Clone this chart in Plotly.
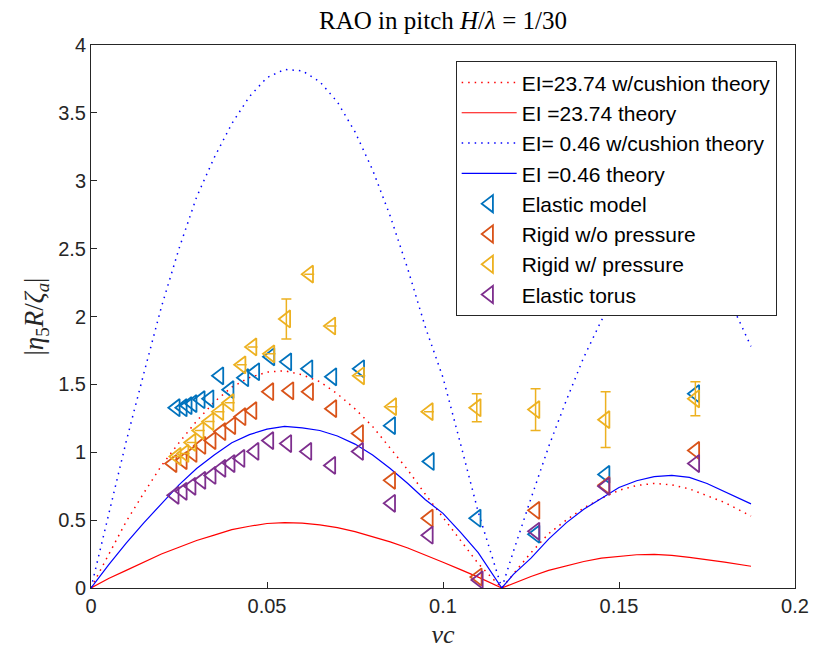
import plotly.graph_objects as go

# Theory curves (nu*c vs |eta5 R / zeta_a|)
x_th = [0.0, 0.005, 0.010, 0.015, 0.020, 0.025, 0.030, 0.035, 0.040, 0.045,
        0.050, 0.055, 0.060, 0.065, 0.070, 0.075, 0.080, 0.085, 0.090, 0.095,
        0.100, 0.105, 0.110, 0.1167, 0.120, 0.125, 0.130, 0.135, 0.140, 0.145,
        0.150, 0.155, 0.160, 0.165, 0.170, 0.175, 0.180, 0.1875]

ei23_cushion = [0.0, 0.25, 0.49, 0.70, 0.90, 1.07, 1.23, 1.37, 1.48, 1.55,
                1.59, 1.60, 1.57, 1.52, 1.43, 1.32, 1.19, 1.03, 0.87, 0.69,
                0.52, 0.35, 0.18, 0.0, 0.10, 0.26, 0.40, 0.50, 0.59, 0.66,
                0.72, 0.755, 0.77, 0.76, 0.73, 0.68, 0.63, 0.53]

ei23_theory = [0.0, 0.07, 0.13, 0.19, 0.25, 0.30, 0.35, 0.39, 0.43, 0.455,
               0.475, 0.482, 0.478, 0.465, 0.445, 0.415, 0.38, 0.34, 0.295, 0.245,
               0.19, 0.135, 0.08, 0.0, 0.035, 0.085, 0.13, 0.165, 0.195, 0.22,
               0.235, 0.245, 0.247, 0.24, 0.225, 0.21, 0.19, 0.16]

ei046_cushion = [0.0, 0.55, 1.08, 1.58, 2.07, 2.50, 2.88, 3.17, 3.42, 3.62,
                 3.76, 3.82, 3.81, 3.73, 3.58, 3.36, 3.08, 2.74, 2.35, 1.92,
                 1.55, 1.06, 0.56, 0.0, 0.27, 0.66, 1.04, 1.38, 1.70, 1.97,
                 2.19, 2.36, 2.47, 2.52, 2.50, 2.42, 2.20, 1.78]

ei046_theory = [0.0, 0.17, 0.33, 0.48, 0.62, 0.76, 0.88, 0.98, 1.07, 1.13,
                1.17, 1.19, 1.18, 1.16, 1.12, 1.06, 0.98, 0.88, 0.77, 0.65,
                0.55, 0.41, 0.26, 0.0, 0.10, 0.22, 0.36, 0.48, 0.58, 0.66,
                0.74, 0.79, 0.82, 0.83, 0.815, 0.77, 0.71, 0.62]

# Experimental series
elastic_x = [0.0241, 0.0261, 0.0275, 0.0289, 0.0312, 0.0337, 0.0365, 0.0394,
             0.0436, 0.0467, 0.0510, 0.0558, 0.0618, 0.0686, 0.0765, 0.0853,
             0.0963, 0.1096, 0.1263, 0.1462, 0.1717]
elastic_y = [1.328, 1.328, 1.343, 1.358, 1.387, 1.394, 1.563, 1.461,
             1.549, 1.593, 1.703, 1.666, 1.615, 1.556, 1.615, 1.196,
             0.932, 0.514, 0.396, 0.837, 1.431]

rigid_x = [0.0232, 0.0261, 0.0289, 0.0314, 0.0343, 0.0371, 0.0399, 0.0428,
           0.0459, 0.0507, 0.0564, 0.0620, 0.0686, 0.0762, 0.0853, 0.0960,
           0.1099, 0.1263, 0.1462, 0.1717]
rigid_y = [0.917, 0.939, 0.991, 1.050, 1.086, 1.152, 1.196, 1.262,
           1.306, 1.446, 1.453, 1.446, 1.321, 1.138, 0.793, 0.514,
           0.081, 0.572, 0.756, 1.013]

pressure_x = [0.0244, 0.0266, 0.0286, 0.0309, 0.0337, 0.0365, 0.0394, 0.0428,
              0.0459, 0.0510, 0.0555, 0.0620, 0.0683, 0.0765, 0.0856, 0.0960,
              0.1096, 0.1263, 0.1462, 0.1717]
pressure_y = [0.969, 0.991, 1.072, 1.160, 1.226, 1.299, 1.365, 1.644,
              1.776, 1.725, 1.982, 2.312, 1.930, 1.563, 1.336, 1.299,
              1.328, 1.314, 1.240, 1.394]
pressure_err = [0, 0, 0, 0, 0, 0, 0, 0,
                0, 0, 0.147, 0, 0, 0, 0, 0,
                0.103, 0.154, 0.205, 0.125]

torus_x = [0.0238, 0.0261, 0.0286, 0.0314, 0.0343, 0.0371, 0.0397, 0.0425,
           0.0465, 0.0507, 0.0558, 0.0615, 0.0683, 0.0762, 0.0853, 0.0960,
           0.1102, 0.1263, 0.1462, 0.1717]
torus_y = [0.683, 0.712, 0.749, 0.793, 0.829, 0.881, 0.917, 0.954,
           1.006, 1.086, 1.064, 1.006, 0.903, 1.006, 0.624, 0.389,
           0.059, 0.418, 0.749, 0.917]

x_ticks = [0, 0.05, 0.1, 0.15, 0.2]
x_tick_text = ["0", "0.05", "0.1", "0.15", "0.2"]
y_ticks = [0, 0.5, 1, 1.5, 2, 2.5, 3, 3.5, 4]
y_tick_text = ["0", "0.5", "1", "1.5", "2", "2.5", "3", "3.5", "4"]

BLUE = "#0072BD"
ORANGE = "#D95319"
YELLOW = "#EDB120"
PURPLE = "#7E2F8E"
DOTS = "1.5px,5px"

fig = go.Figure()

fig.add_trace(go.Scatter(x=x_th, y=ei23_cushion, mode="lines",
                         line=dict(color="#FF0000", width=1.5, dash=DOTS),
                         name="EI=23.74 w/cushion theory"))
fig.add_trace(go.Scatter(x=x_th, y=ei23_theory, mode="lines",
                         line=dict(color="#FF0000", width=1.2),
                         name="EI =23.74 theory"))
fig.add_trace(go.Scatter(x=x_th, y=ei046_cushion, mode="lines",
                         line=dict(color="#0000FF", width=1.5, dash=DOTS),
                         name="EI= 0.46 w/cushion theory"))
fig.add_trace(go.Scatter(x=x_th, y=ei046_theory, mode="lines",
                         line=dict(color="#0000FF", width=1.2),
                         name="EI =0.46 theory"))


def marker_trace(xs, ys, color, name, err=None):
    tr = go.Scatter(x=xs, y=ys, mode="markers", name=name,
                    marker=dict(symbol="triangle-left-open", size=15,
                                color=color, line=dict(width=1.8, color=color)))
    if err is not None:
        tr.error_y = dict(type="data", array=err, visible=True,
                          color=color, thickness=1.5, width=5)
    return tr


fig.add_trace(marker_trace(elastic_x, elastic_y, BLUE, "Elastic model"))
fig.add_trace(marker_trace(rigid_x, rigid_y, ORANGE, "Rigid w/o pressure"))
fig.add_trace(marker_trace(pressure_x, pressure_y, YELLOW, "Rigid w/ pressure",
                           err=pressure_err))
fig.add_trace(marker_trace(torus_x, torus_y, PURPLE, "Elastic torus"))

axis_style = dict(showline=True, linecolor="#262626", linewidth=1, mirror=True,
                  ticks="inside", ticklen=6, tickcolor="#262626",
                  showgrid=False, zeroline=False,
                  tickfont=dict(family="Liberation Sans, Arial", size=20, color="#262626"))

fig.update_layout(
    width=821, height=655,
    margin=dict(l=91, r=24, t=45, b=65),
    paper_bgcolor="white", plot_bgcolor="white",
    title=dict(text="RAO in pitch <i>H</i>/<i>λ</i> = 1/30",
               font=dict(family="Liberation Serif, Times New Roman", size=25, color="#000000"),
               x=0.5, xref="paper", y=0.982, yanchor="top"),
    xaxis=dict(range=[0, 0.2], tickvals=x_ticks, ticktext=x_tick_text,
               title=dict(text="<i>νc</i>", standoff=8,
                          font=dict(family="Liberation Serif, Times New Roman", size=26, color="#262626")),
               **axis_style),
    yaxis=dict(range=[0, 4], tickvals=y_ticks, ticktext=y_tick_text,
               title=dict(text="|<i>η</i><sub>5</sub><i>R</i>/<i>ζ</i><sub><i>a</i></sub>|", standoff=6,
                          font=dict(family="Liberation Serif, Times New Roman", size=27, color="#262626")),
               **axis_style),
    legend=dict(x=0.518, y=0.97, xanchor="left", yanchor="top",
                bgcolor="white", bordercolor="#262626", borderwidth=1,
                font=dict(family="Liberation Sans, Arial", size=21, color="#000000"),
                tracegroupgap=0, itemwidth=55),
    showlegend=True,
)

fig.write_html("out.html")
